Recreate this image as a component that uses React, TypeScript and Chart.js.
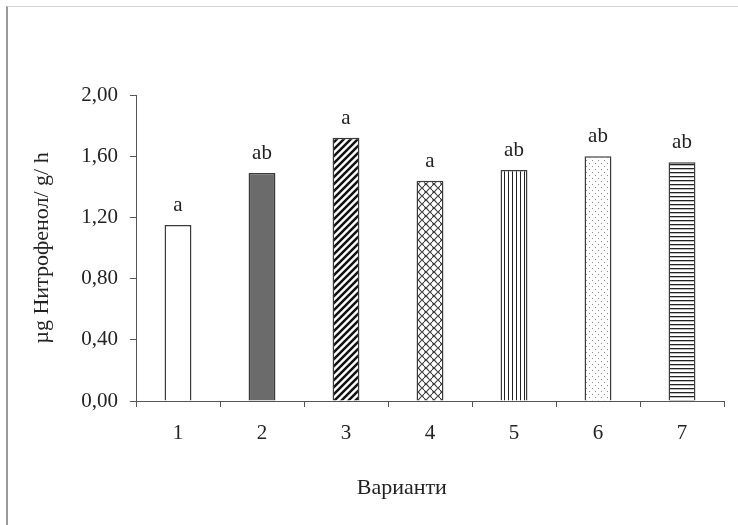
import React, { useEffect, useRef } from "react";
import { Chart, registerables } from "chart.js";

Chart.register(...registerables);

const categories = ["1", "2", "3", "4", "5", "6", "7"];
const values = [1.15, 1.49, 1.72, 1.44, 1.51, 1.6, 1.56];
const letters = ["a", "ab", "a", "a", "ab", "ab", "ab"];
const yTicks = [0, 0.4, 0.8, 1.2, 1.6, 2.0];
const xTitle = "Варианти";
const yTitle = "µg Нитрофенол/ g/ h";

const FONT = "'Liberation Serif', 'Times New Roman', serif";

function tile(w: number, h: number, draw: (c: CanvasRenderingContext2D) => void): CanvasPattern | string {
  const cv = document.createElement("canvas");
  cv.width = w;
  cv.height = h;
  const c = cv.getContext("2d");
  if (!c) return "#fff";
  c.fillStyle = "#fff";
  c.fillRect(0, 0, w, h);
  draw(c);
  const p = c.createPattern(cv, "repeat");
  return p || "#fff";
}

function makeFills(): (CanvasPattern | string)[] {
  const diag = tile(7, 7, (c) => {
    c.strokeStyle = "#111";
    c.lineWidth = 2.5;
    c.beginPath();
    for (let k = -1; k <= 1; k++) {
      c.moveTo(-1 + k * 7, 8);
      c.lineTo(8 + k * 7, -1);
    }
    c.stroke();
  });
  const wave = tile(8, 8, (c) => {
    c.strokeStyle = "#333";
    c.lineWidth = 1.2;
    c.beginPath();
    c.moveTo(0, 2);
    c.quadraticCurveTo(2, -1, 4, 2);
    c.quadraticCurveTo(6, 5, 8, 2);
    c.stroke();
    c.beginPath();
    c.moveTo(0, 6);
    c.quadraticCurveTo(2, 9, 4, 6);
    c.quadraticCurveTo(6, 3, 8, 6);
    c.stroke();
  });
  const vert = tile(4, 4, (c) => {
    c.fillStyle = "#222";
    c.fillRect(0, 0, 1, 4);
  });
  const dots = tile(6, 6, (c) => {
    c.fillStyle = "#888";
    c.fillRect(1, 1, 1, 1);
    c.fillRect(4, 4, 1, 1);
  });
  const horiz = tile(4, 4, (c) => {
    c.fillStyle = "#222";
    c.fillRect(0, 0, 4, 1.3);
  });
  return ["#ffffff", "#6b6b6b", diag, wave, vert, dots, horiz];
}

const letterPlugin = {
  id: "letters",
  afterDatasetsDraw(chart: any) {
    const meta = chart.getDatasetMeta(0);
    const ctx = chart.ctx;
    ctx.save();
    ctx.font = `21px ${FONT}`;
    ctx.fillStyle = "#222";
    ctx.textAlign = "center";
    ctx.textBaseline = "alphabetic";
    meta.data.forEach((bar: any, i: number) => {
      ctx.fillText(letters[i], bar.x, bar.y - 14);
    });
    // x axis title, slightly left of plot centre as in the reference
    const a = chart.chartArea;
    ctx.font = `22px ${FONT}`;
    ctx.textBaseline = "middle";
    ctx.fillText(xTitle, a.left + (a.right - a.left) * 0.452, 488);
    ctx.restore();
  },
};

export default function App() {
  const ref = useRef<HTMLCanvasElement>(null);
  useEffect(() => {
    document.body.style.margin = "0";
    if (!ref.current) return;
    const chart = new Chart(ref.current, {
      type: "bar",
      data: {
        labels: categories,
        datasets: [
          {
            data: values,
            backgroundColor: makeFills() as any,
            borderColor: "#3a3a3a",
            borderWidth: 1.5,
            barPercentage: 0.32,
            categoryPercentage: 1,
          },
        ],
      },
      plugins: [letterPlugin],
      options: {
        animation: false,
        responsive: false,
        maintainAspectRatio: false,
        layout: { padding: { top: 95, right: 14, bottom: 0, left: 0 } },
        plugins: { legend: { display: false }, tooltip: { enabled: false } },
        scales: {
          x: {
            afterFit: (s: any) => {
              s.height = 124;
            },
            grid: { drawOnChartArea: false, drawTicks: true, tickLength: 6, color: "#555", offset: true },
            border: { color: "#555", width: 1 },
            ticks: { font: { family: FONT, size: 21 }, color: "#222", padding: 14 },
          },
          y: {
            min: 0,
            max: 2,
            afterFit: (s: any) => {
              s.width = 136;
            },
            afterBuildTicks: (s: any) => {
              s.ticks = yTicks.map((v) => ({ value: v }));
            },
            grid: { drawOnChartArea: false, drawTicks: true, tickLength: 6, color: "#555" },
            border: { color: "#555", width: 1 },
            ticks: {
              font: { family: FONT, size: 21 },
              color: "#222",
              padding: 12,
              callback: (v: any) => Number(v).toFixed(2).replace(".", ","),
            },
            title: {
              display: true,
              text: yTitle,
              font: { family: FONT, size: 22 },
              color: "#222",
              padding: { top: 29, bottom: 0 },
            },
          },
        },
      },
    });
    return () => chart.destroy();
  }, []);
  return (
    <div style={{ position: "relative", width: 738, height: 525, background: "#fff" }}>
      <div
        style={{
          position: "absolute",
          left: 6,
          top: 6,
          right: 0,
          bottom: 0,
          borderLeft: "2px solid #9a9a9a",
          borderTop: "1px solid #d4d4d4",
        }}
      />
      <canvas ref={ref} width={738} height={525} style={{ position: "absolute", left: 0, top: 0 }} />
    </div>
  );
}
